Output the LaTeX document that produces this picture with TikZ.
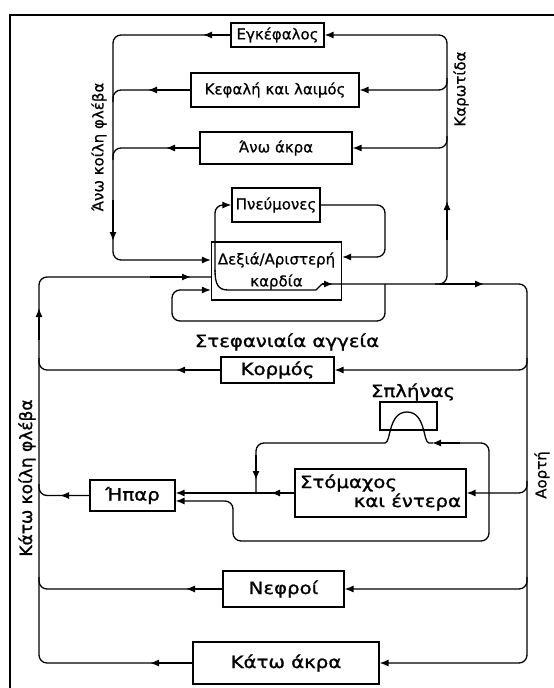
\documentclass[tikz,border=0pt]{standalone}
\usepackage{fontspec}
\setmainfont{DejaVu Sans}
\newfontfamily\topfont[FakeBold=0.6]{DejaVu Sans}
\newfontfamily\lowfont[FakeBold=1.2]{DejaVu Sans}
\usetikzlibrary{arrows.meta}
\tikzset{
  box/.style={draw,line width=1.1pt,inner sep=0pt},
  toptxt/.style={font=\topfont\fontsize{15}{22}\selectfont},
  lowtxt/.style={font=\lowfont\fontsize{17}{20}\selectfont},
  tip/.style={-{Latex[length=9pt,width=7pt]}},
  vessel/.style={rounded corners=8pt},
}
\newcommand\wide[1]{\scalebox{1.16}[1]{#1}}
\newcommand\upward[1]{\rotatebox{90}{#1}}
\begin{document}
\begin{tikzpicture}[x=1pt,y=-1pt,line width=1.3pt]
\useasboundingbox (0,0) rectangle (554,688);
\draw[line width=1.6pt] (10,688) -- (10,15) -- (554,15);

% organs
\node[box,toptxt,minimum width=93pt,minimum height=24pt] (egk) at (277.5,35) {Εγκέφαλος};
\node[box,toptxt,minimum width=168pt,minimum height=34pt] (kef) at (275,90) {Κεφαλή και λαιμός};
\node[box,toptxt,minimum width=152pt,minimum height=32pt] (anw) at (276,148) {Άνω άκρα};
\node[box,toptxt,minimum width=88pt,minimum height=34pt] (pne) at (276,205) {Πνεύμονες};
\node[box,toptxt,align=center,minimum width=130pt,minimum height=58pt] (heart) at (276.5,271) {Δεξιά/Αριστερή\\καρδία};
\node[box,lowtxt,minimum width=113pt,minimum height=26pt] (korm) at (277.5,370) {\wide{Κορμός}};
\node[box,minimum width=57pt,minimum height=28pt] (spl) at (408.5,416) {};
\node[lowtxt] (spllab) at (413,392) {\wide{Σπλήνας}};
\node[box,minimum width=171pt,minimum height=48pt] (stom) at (380.5,493) {};
\node[lowtxt,anchor=west] (stom1) at (296,483) {\wide{Στόμαχος}};
\node[lowtxt,anchor=east] (stom2) at (465,502) {\wide{και έντερα}};
\node[box,lowtxt,minimum width=85pt,minimum height=31pt] (hpar) at (132.5,495.5) {\wide{Ήπαρ}};
\node[box,lowtxt,minimum width=121pt,minimum height=36pt] (nefr) at (283.5,589) {\wide{Νεφροί}};
\node[box,lowtxt,minimum width=186pt,minimum height=42pt] (katw) at (286,663) {\wide{Κάτω άκρα}};

% vessel names
\node[toptxt] (karot) at (461,89) {\upward{Καρωτίδα}};
\node[toptxt] (vcs) at (99,147) {\upward{Άνω κοίλη φλέβα}};
\node[lowtxt] (vci) at (27,478) {\upward{Κάτω κοίλη φλέβα}};
\node[toptxt] (aorta) at (542,475) {\upward{Αορτή}};
\node[lowtxt] (coron) at (287,342) {\wide{Στεφανιαία αγγεία}};

% upper vena cava
\draw[vessel,tip] (egk.west) -- (113,35) -- (113,260) -- (heart.west |- 0,260);
\draw[tip] (egk.west) -- (203,35);
\draw[tip] (113,200) -- (113,241);
\draw[vessel] (kef.west) -- (113,90) -- (113,102);
\draw[tip] (kef.west) -- (148,90);
\draw[vessel] (anw.west) -- (113,148) -- (113,160);
\draw[tip] (anw.west) -- (166,148);

% carotid
\draw[vessel,tip] (435,284) -- (447,284) -- (447,35) -- (egk.east);
\draw[tip] (447,240) -- (447,201);
\draw[vessel,tip] (447,78) -- (447,90) -- (kef.east);
\draw[vessel,tip] (447,136) -- (447,148) -- (anw.east);

% lungs
\draw[vessel,tip] (215,272) -- (215,205) -- (pne.west);
\draw[vessel,tip] (pne.east) -- (385,205) -- (385,257) -- (heart.east |- 0,257);
\draw (215,270) .. controls (215,284) and (218,290) .. (228,290) -- (316,290) -- (322,284);
\draw[tip] (322,284) -- (333,284);

% aorta
\draw[vessel,tip] (322,284) -- (527,284) -- (527,663) -- (katw.east);
\draw[tip] (440,284) -- (484,284);
\draw[vessel,tip] (385,284) -- (385,321) -- (172,321) -- (172,290) -- (heart.west |- 0,290);
\draw[vessel,tip] (527,358) -- (527,370) -- (korm.east);
\draw[vessel,tip] (527,481) -- (527,493) -- (stom.east);
\draw[vessel,tip] (527,577) -- (527,589) -- (nefr.east);

% lower vena cava
\draw[vessel] (katw.west) -- (39,663) -- (39,277) -- (heart.west |- 0,277);
\draw[tip] (150,277) -- (191,277);
\draw[tip] (39,340) -- (39,308);
\draw[tip] (katw.west) -- (150,663);
\draw[vessel] (korm.west) -- (39,370) -- (39,358);
\draw[tip] (korm.west) -- (176,370);
\draw[vessel] (nefr.west) -- (39,589) -- (39,577);
\draw[tip] (nefr.west) -- (186,589);
\draw[vessel] (hpar.west) -- (39,495.5) -- (39,484);
\draw[tip] (hpar.west) -- (60,495.5);

% spleen and liver
\draw[vessel,tip] (440,443) -- (489,443) -- (489,541) -- (233,541) -- (233,501) -- (hpar.east |- 0,501);
\draw[tip] (460,443) -- (432,443);
\draw (433,443) -- (429,443) .. controls (423,443) and (426,412) .. (407,412)
  .. controls (388,412) and (391,443) .. (385,443);
\draw[vessel] (385,443) -- (256,443) -- (256,493);
\draw[tip] (256,455) -- (256,480);
\draw[tip] (stom.west) -- (hpar.east |- stom.west);
\draw[tip] (stom.west) -- (271,493);
\end{tikzpicture}
\end{document}
